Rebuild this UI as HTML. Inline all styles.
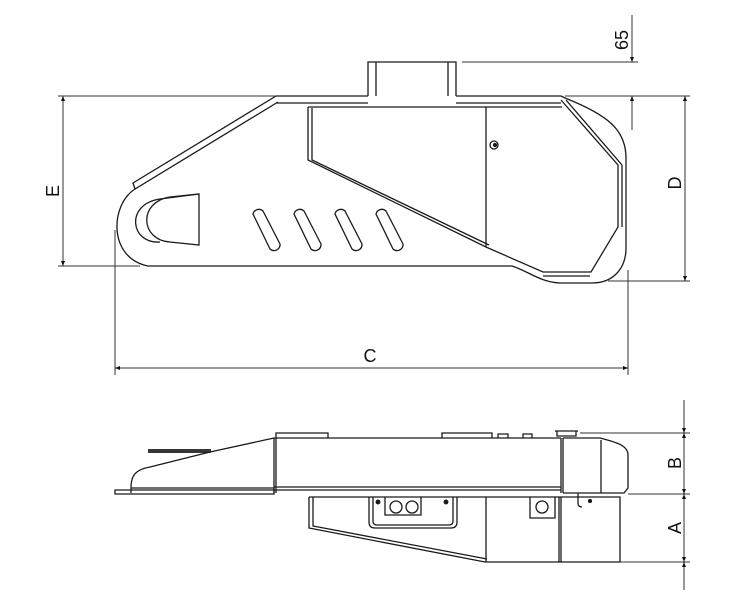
<!DOCTYPE html>
<html><head><style>html,body{margin:0;padding:0;background:#fff}svg{display:block}</style></head>
<body>
<svg width="748" height="616" viewBox="0 0 748 616" xmlns="http://www.w3.org/2000/svg" font-family="Liberation Sans, sans-serif">
<defs>
<marker id="a" viewBox="0 0 10 10" refX="10" refY="5" markerWidth="5" markerHeight="9" orient="auto-start-reverse" markerUnits="userSpaceOnUse"><path d="M0,1 L10,5 L0,9z" fill="#111"/></marker>
</defs>
<g fill="none" stroke="#1a1a1a" stroke-width="1.3">
<path d="M368,96 V62 H456 V96 M376,62 V96 M448,62 V96"/>
<path d="M276,96 H368 M456,96 H561 M276,103 H368 M456,103 H561"/>
<path d="M276,96 L133,183 L135,189 L278,102"/>
<path d="M135,189 C110,205 108,258 148,266 H512 C530,272 540,282 560,283 H592 C612,283 625,270 626,250 V158 C626,130 608,115 565,98 L561,96"/>
<path d="M308,107 H562 M308,107 V160 L486,247 L543,272 H591 L618,227 V165 L561,100 M312,108 V160 L489,245 M486,107 V247 M543,276 H590 M622,227 V165 M566,100 L622,165"/>
<path d="M199,194 V245 L170,242 C140,240 138,202 170,197 Z"/>
<path d="M199,194 L160,199 C125,204 130,244 160,242"/>
<g stroke-width="1.3">
<path d="M253,214 a6,6 0 0 1 10,-3 L280,244 a6,6 0 0 1 -10,5 Z"/>
<path d="M294,214 a6,6 0 0 1 10,-3 L321,244 a6,6 0 0 1 -10,5 Z"/>
<path d="M335,214 a6,6 0 0 1 10,-3 L362,244 a6,6 0 0 1 -10,5 Z"/>
<path d="M376,214 a6,6 0 0 1 10,-3 L403,244 a6,6 0 0 1 -10,5 Z"/>
</g>
<circle cx="494" cy="145" r="4"/><circle cx="495" cy="145" r="1.5" fill="#1a1a1a"/>
</g>
<g stroke="#333" stroke-width="1" fill="none">
<path d="M58,96 H276 M58,266 H140"/>
<line x1="63" y1="96" x2="63" y2="266" marker-start="url(#a)" marker-end="url(#a)"/>
<path d="M462,62 H638 M565,96 H690 M608,281 H690"/>
<line x1="685" y1="96" x2="685" y2="281" marker-start="url(#a)" marker-end="url(#a)"/>
<line x1="632" y1="15" x2="632" y2="62" marker-end="url(#a)"/>
<line x1="632" y1="130" x2="632" y2="96" marker-end="url(#a)"/>
<path d="M115,230 V375 M628,270 V375"/>
<line x1="115" y1="368" x2="628" y2="368" marker-start="url(#a)" marker-end="url(#a)"/>
</g>
<g font-size="18" fill="#111">
<text transform="translate(59,191) rotate(-90)" text-anchor="middle">E</text>
<text transform="translate(681,183) rotate(-90)" text-anchor="middle">D</text>
<text transform="translate(628,40) rotate(-90)" text-anchor="middle">65</text>
<text x="370" y="362" text-anchor="middle">C</text>
<text transform="translate(681,463) rotate(-90)" text-anchor="middle">B</text>
<text transform="translate(681,528) rotate(-90)" text-anchor="middle">A</text>
</g>
<g fill="none" stroke="#1a1a1a" stroke-width="1.3">
<path d="M274,438 H561 M274,438 V493 M276,438 V493 M274,487 H561 M274,490 H561 M561,438 V493 M563,438 V493"/>
<path d="M276,438 V433 H328 V438 M442,438 V433 H492 V438 M498,438 V434 H508 V438 M523,438 V434 H532 V438 M555,431 H578 M557,431 V436 H576 V431"/>
<path d="M563,438 H600 C615,442 628,445 628,455 V488 L624,493 H563 M601,440 V493"/>
<path d="M274,438 L210,452 L150,467 C133,470 131,478 131,488 V493 M131,488 H274"/>
<path d="M115,490 H274 V494 H115 Z"/>
<path d="M148,450 H211 M148,452 H211" stroke-width="1.8"/>
<path d="M309,497 V528 L485,562 H620 V497 H309 M313,497 V526 L487,559 M486,497 V562 M559,497 V562 M561,497 V562"/>
<path d="M369,497 V522 Q369,528 375,528 H451 Q457,528 457,522 V497 M373,497 V521 Q373,525 377,525 H449 Q453,525 453,521 V497"/>
<path d="M385,497 V515 H421 V497"/>
<circle cx="396" cy="507" r="6"/><circle cx="412" cy="507" r="6"/>
<circle cx="378" cy="502" r="1.8" fill="#1a1a1a"/><circle cx="446" cy="502" r="1.8" fill="#1a1a1a"/>
<path d="M530,497 V518 H555 V497"/><circle cx="542" cy="507" r="6"/>
<path d="M578,493 V503 Q578,507 582,507" /><circle cx="590" cy="501" r="1.5" fill="#1a1a1a"/>
</g>
<g stroke="#333" stroke-width="1" fill="none">
<path d="M580,433 H690 M628,494 H690 M620,562 H690"/>
<line x1="684" y1="400" x2="684" y2="433" marker-end="url(#a)"/>
<line x1="684" y1="433" x2="684" y2="494" marker-start="url(#a)" marker-end="url(#a)"/>
<line x1="684" y1="494" x2="684" y2="562" marker-start="url(#a)" marker-end="url(#a)"/>
<line x1="684" y1="590" x2="684" y2="562" marker-end="url(#a)"/>
</g>
</svg>
</body></html>
